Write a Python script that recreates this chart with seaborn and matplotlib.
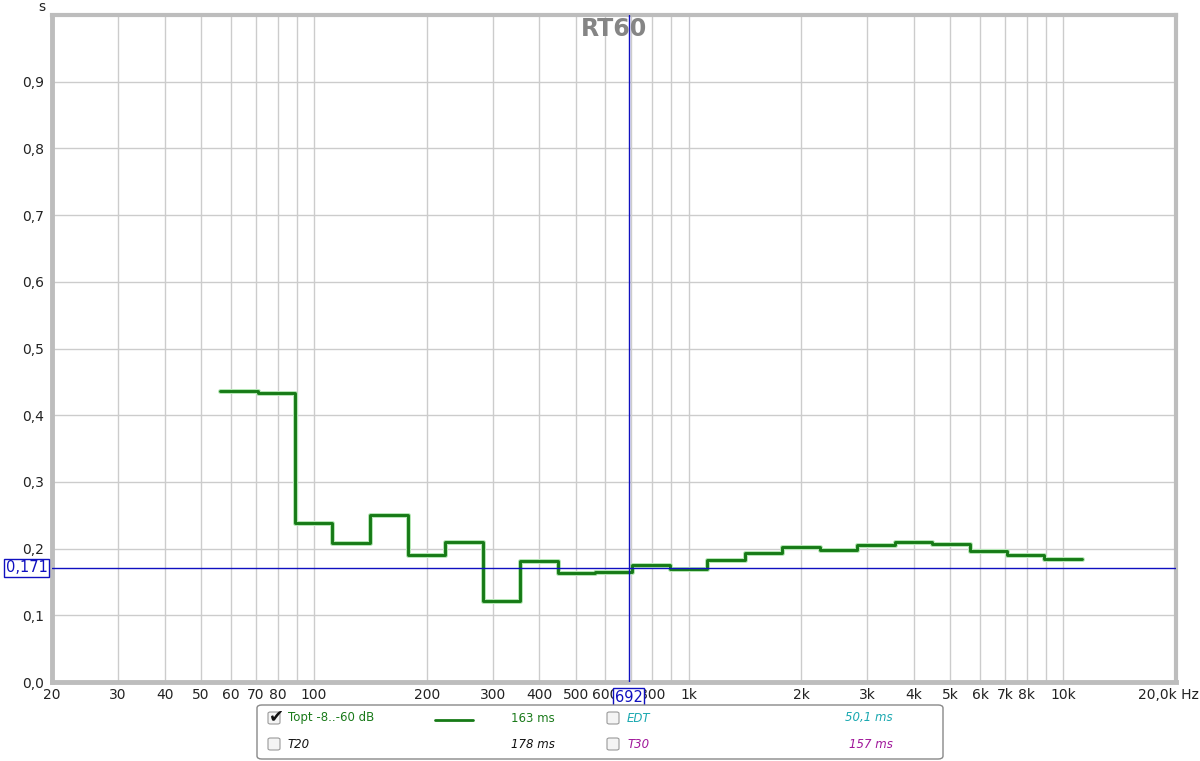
import matplotlib
matplotlib.use("Agg")
import matplotlib.pyplot as plt
import matplotlib.transforms as mtransforms
from matplotlib.patches import FancyBboxPatch
import seaborn as sns

# third-octave band edges (Hz) and RT60 "Topt" values (s)
band_edges = [56.2, 70.8, 89.1, 112, 141, 178, 224, 282, 355, 447, 562, 708,
              891, 1122, 1413, 1778, 2239, 2818, 3548, 4467, 5623, 7079, 8913, 11220]
topt = [0.437, 0.434, 0.239, 0.209, 0.251, 0.190, 0.210, 0.122, 0.182, 0.163,
        0.165, 0.175, 0.169, 0.183, 0.194, 0.202, 0.198, 0.206, 0.210, 0.207,
        0.196, 0.191, 0.184]

cursor_f = 692
cursor_t = 0.171

# 700 label sits fully under the cursor box in the original, so it is left blank
x_ticks = [20, 30, 40, 50, 60, 70, 80, 100, 200, 300, 400, 500, 600, 800,
           1000, 2000, 3000, 4000, 5000, 6000, 7000, 8000, 10000, 20000]
x_labels = ['20', '30', '40', '50', '60', '70', '80', '100', '200', '300', '400',
            '500', '600', '800', '1k', '2k', '3k', '4k', '5k', '6k', '7k',
            '8k', '10k', '20,0k Hz']
x_grid = [30, 40, 50, 60, 70, 80, 90, 100, 200, 300, 400, 500, 600, 700, 800, 900,
          1000, 2000, 3000, 4000, 5000, 6000, 7000, 8000, 9000, 10000]
y_ticks = [0.0, 0.1, 0.2, 0.3, 0.4, 0.5, 0.6, 0.7, 0.8, 0.9]
y_labels = ['0,0', '0,1', '0,2', '0,3', '0,4', '0,5', '0,6', '0,7', '0,8', '0,9']

legend_rows = [
    [('Topt -8..-60 dB', '#1a7a1a', 'normal', True, '163 ms'),
     ('EDT', '#1aa8b0', 'italic', False, '50,1 ms')],
    [('T20', '#111111', 'italic', False, '178 ms'),
     ('T30', '#a0179a', 'italic', False, '157 ms')],
]

sns.set_style('white')
plt.rcParams['font.family'] = ['DejaVu Sans']

W, H = 1200, 761
fig = plt.figure(figsize=(12, 7.61), dpi=100)
ax = fig.add_axes([52 / W, 1 - 682 / H, (1176 - 52) / W, (682 - 15) / H])

ax.set_xscale('log')
ax.set_xlim(20, 20000)
ax.set_ylim(0, 1.0)

for f in x_grid:
    ax.axvline(f, color='#cccccc', lw=1, zorder=0)
for t in y_ticks[1:]:
    ax.axhline(t, color='#cccccc', lw=1, zorder=0)

ax.set_xticks(x_ticks)
ax.set_xticklabels(x_labels)
ax.xaxis.set_minor_locator(matplotlib.ticker.NullLocator())
ax.set_yticks(y_ticks)
ax.set_yticklabels(y_labels)
ax.tick_params(length=0, labelsize=10, colors='#222222', pad=4)
ax.tick_params(axis='y', pad=6)
lab = ax.get_xticklabels()[-1]
lab.set_transform(lab.get_transform() + mtransforms.ScaledTranslation(-0.08, 0, fig.dpi_scale_trans))

for side, sp in ax.spines.items():
    sp.set_color('#bdbdbd')
    sp.set_linewidth(3.5 if side in ('left', 'bottom') else 3)
    sp.set_visible(True)

# step line with light halo
xs = band_edges
ys = topt + [topt[-1]]
sns.lineplot(x=xs, y=ys, ax=ax, drawstyle='steps-post', estimator=None, sort=False,
             color='#b5e6b5', lw=3.6, zorder=3)
sns.lineplot(x=xs, y=ys, ax=ax, drawstyle='steps-post', estimator=None, sort=False,
             color='#167a16', lw=2.1, zorder=4)

# cursor
ax.axvline(cursor_f, color='#1010c0', lw=1, zorder=5)
ax.axhline(cursor_t, color='#1010c0', lw=1, zorder=5)
box = dict(boxstyle='square,pad=0.12', fc='white', ec='#1010c0', lw=1)
ax.text(-0.004, cursor_t, '0,171', transform=ax.get_yaxis_transform(), ha='right',
        va='center', fontsize=10.5, color='#1010c0', bbox=box, zorder=6, clip_on=False)
ax.text(cursor_f, -0.012, '692', transform=ax.get_xaxis_transform(), ha='center',
        va='top', fontsize=10.5, color='#1010c0', bbox=box, zorder=6, clip_on=False)

ax.text(0.5, 0.997, 'RT60', transform=ax.transAxes, ha='center', va='top',
        fontsize=17, fontweight='bold', color='#858585', zorder=7)
fig.text(45 / W, 1 - 7 / H, 's', ha='right', va='center', fontsize=10, color='#222222')

# legend panel
fig.patches.append(FancyBboxPatch((257 / W, 1 - 759 / H), (943 - 257) / W, (759 - 705) / H,
                                  boxstyle='round,pad=0,rounding_size=0.004',
                                  transform=fig.transFigure, fc='white', ec='#888888', lw=1))
row_y = [718, 744]
for r, row in enumerate(legend_rows):
    y = 1 - row_y[r] / H
    for c, (name, col, style, checked, val) in enumerate(row):
        cx = [268, 607][c]
        fig.patches.append(FancyBboxPatch((cx / W, y - 6 / H), 12 / W, 12 / H,
                                          boxstyle='round,pad=0,rounding_size=0.002',
                                          transform=fig.transFigure, fc='#f4f4f4',
                                          ec='#9a9a9a', lw=0.8))
        if checked:
            fig.text((cx + 8) / W, y + 2 / H, '\u2714', ha='center', va='center',
                     fontsize=13, color='#111111')
        fig.text((cx + 20) / W, y, name, ha='left', va='center', fontsize=8.5,
                 color=col, style=style)
        vx = [555, 893][c]
        fig.text(vx / W, y, val, ha='right', va='center', fontsize=8.5,
                 color=col, style=style)
fig.lines.append(plt.Line2D([435 / W, 473 / W], [1 - 720 / H] * 2, transform=fig.transFigure,
                            color='#167a16', lw=2))

fig.savefig('out.png', dpi=100)
